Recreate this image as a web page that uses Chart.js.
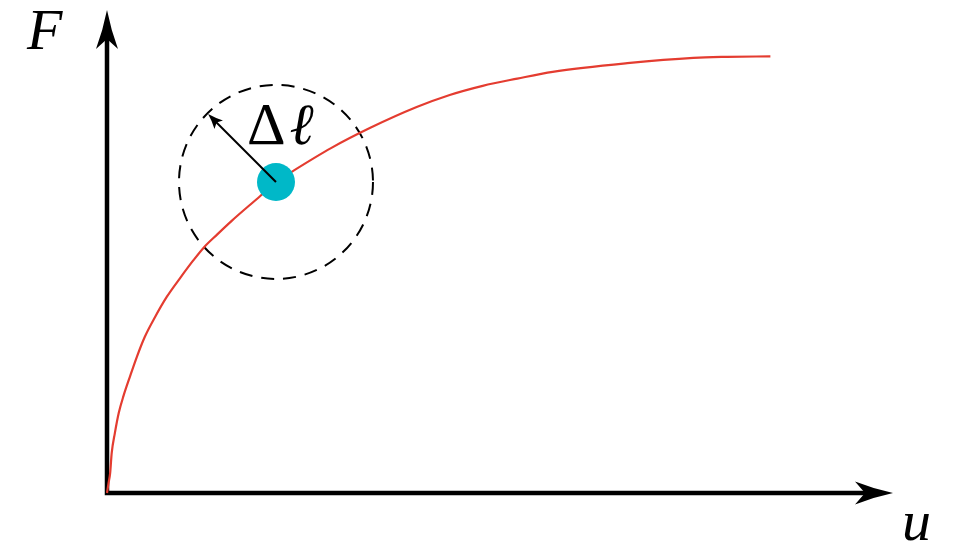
<!DOCTYPE html>
<html>
<head>
<meta charset="utf-8">
<script src="https://cdn.jsdelivr.net/npm/chart.js@4/dist/chart.umd.min.js"></script>
<style>
  html, body { margin: 0; padding: 0; background: #fff; }
  #wrap { width: 958px; height: 544px; }
</style>
</head>
<body>
<div id="wrap"><canvas id="myChart" width="958" height="544"></canvas></div>
<script>
// Curva fuerza-desplazamiento
const curveU = [0, 0.02, 0.04, 0.06, 0.10, 0.15, 0.21, 0.29, 0.38, 0.48, 0.61, 0.76, 0.93, 1.10, 1.23, 1.40, 1.59, 1.95, 2.15, 2.37, 2.85, 3.35, 3.94, 4.36, 4.78, 5.22, 5.67, 6.62, 7.46, 7.89, 8.44];
const curveF = [0, 0.21, 0.41, 0.83, 1.24, 1.66, 2.01, 2.40, 2.82, 3.23, 3.64, 4.06, 4.45, 4.82, 5.08, 5.35, 5.64, 6.15, 6.44, 6.67, 7.14, 7.56, 7.99, 8.24, 8.43, 8.58, 8.72, 8.90, 9.01, 9.03, 9.04];

// Punto actual sobre la curva
const pointU = [2.15];
const pointF = [6.44];

// Etiquetas
const axisLabels = ['F', 'u'];
const stepLabel = ['Δ', 'ℓ'];

const RED = 'rgb(228, 60, 48)';
const CYAN = 'rgb(0, 184, 200)';
const SERIF = '"Liberation Serif", "Times New Roman", "Noto Serif", "DejaVu Serif", serif';

function arrowHead(ctx, tipX, tipY, angle, len, half, notch) {
  ctx.save();
  ctx.translate(tipX, tipY);
  ctx.rotate(angle);
  ctx.beginPath();
  ctx.moveTo(0, 0);
  ctx.quadraticCurveTo(-len * 0.5, -half * 0.35, -len, -half);
  ctx.lineTo(-len + notch, 0);
  ctx.lineTo(-len, half);
  ctx.quadraticCurveTo(-len * 0.5, half * 0.35, 0, 0);
  ctx.closePath();
  ctx.fill();
  ctx.restore();
}

// Ejes con flechas, círculo de búsqueda y etiquetas
const drawExtras = {
  id: 'drawExtras',
  beforeDatasetsDraw(chart) {
    const ctx = chart.ctx;
    const xs = chart.scales.x, ys = chart.scales.y;
    const x0 = xs.getPixelForValue(0), y0 = ys.getPixelForValue(0);
    const top = chart.chartArea.top, right = chart.chartArea.right;

    ctx.save();
    ctx.strokeStyle = '#000';
    ctx.fillStyle = '#000';
    ctx.lineWidth = 4.5;
    ctx.lineCap = 'square';
    ctx.beginPath();
    ctx.moveTo(x0, y0);
    ctx.lineTo(x0, top + 30);
    ctx.moveTo(x0, y0);
    ctx.lineTo(right - 30, y0);
    ctx.stroke();
    arrowHead(ctx, x0, top, -Math.PI / 2, 39, 11, 10);
    arrowHead(ctx, right, y0, 0, 38, 11.5, 10);

    // Círculo discontinuo alrededor del punto
    const cx = xs.getPixelForValue(pointU[0]), cy = ys.getPixelForValue(pointF[0]);
    const r = 97;
    ctx.lineWidth = 2;
    ctx.lineCap = 'butt';
    ctx.setLineDash([13, 9]);
    ctx.beginPath();
    ctx.arc(cx, cy, r, 0, Math.PI * 2);
    ctx.stroke();
    ctx.setLineDash([]);
    ctx.restore();
  },
  afterDatasetsDraw(chart) {
    const ctx = chart.ctx;
    const xs = chart.scales.x, ys = chart.scales.y;
    const cx = xs.getPixelForValue(pointU[0]), cy = ys.getPixelForValue(pointF[0]);
    const r = 96;
    const ang = -3 * Math.PI / 4;
    const tx = cx + r * Math.cos(ang), ty = cy + r * Math.sin(ang);

    ctx.save();
    ctx.strokeStyle = '#000';
    ctx.fillStyle = '#000';
    ctx.lineWidth = 2;
    ctx.beginPath();
    ctx.moveTo(cx, cy);
    ctx.lineTo(tx + 8 * Math.cos(ang + Math.PI), ty + 8 * Math.sin(ang + Math.PI));
    ctx.stroke();
    arrowHead(ctx, tx, ty, ang, 15, 6, 3);

    // Δ recto, ℓ en cursiva
    ctx.textBaseline = 'alphabetic';
    ctx.font = '60px ' + SERIF;
    ctx.fillText(stepLabel[0], 247, 144);
    const dw = ctx.measureText(stepLabel[0]).width;
    ctx.font = 'italic 58px ' + SERIF;
    ctx.fillText(stepLabel[1], 247 + dw + 4, 144);

    ctx.font = 'italic 58px ' + SERIF;
    ctx.fillText(axisLabels[0], 27, 49);
    ctx.fillText(axisLabels[1], 902, 540);
    ctx.restore();
  }
};

const ctx = document.getElementById('myChart').getContext('2d');
new Chart(ctx, {
  type: 'scatter',
  data: {
    datasets: [
      {
        data: pointU.map((u, i) => ({ x: u, y: pointF[i] })),
        pointRadius: 19,
        pointHoverRadius: 19,
        backgroundColor: CYAN,
        borderWidth: 0,
        order: 1
      },
      {
        data: curveU.map((u, i) => ({ x: u, y: curveF[i] })),
        showLine: true,
        borderColor: RED,
        borderWidth: 2.2,
        pointRadius: 0,
        cubicInterpolationMode: 'monotone',
        order: 2
      }
    ]
  },
  options: {
    responsive: false,
    animation: false,
    clip: false,
    layout: { autoPadding: false, padding: { left: 107, right: 65, top: 10, bottom: 51 } },
    scales: {
      x: { type: 'linear', min: 0, max: 10, display: false },
      y: { type: 'linear', min: 0, max: 10, display: false }
    },
    plugins: {
      legend: { display: false },
      tooltip: { enabled: false }
    }
  },
  plugins: [drawExtras]
});
</script>
</body>
</html>
